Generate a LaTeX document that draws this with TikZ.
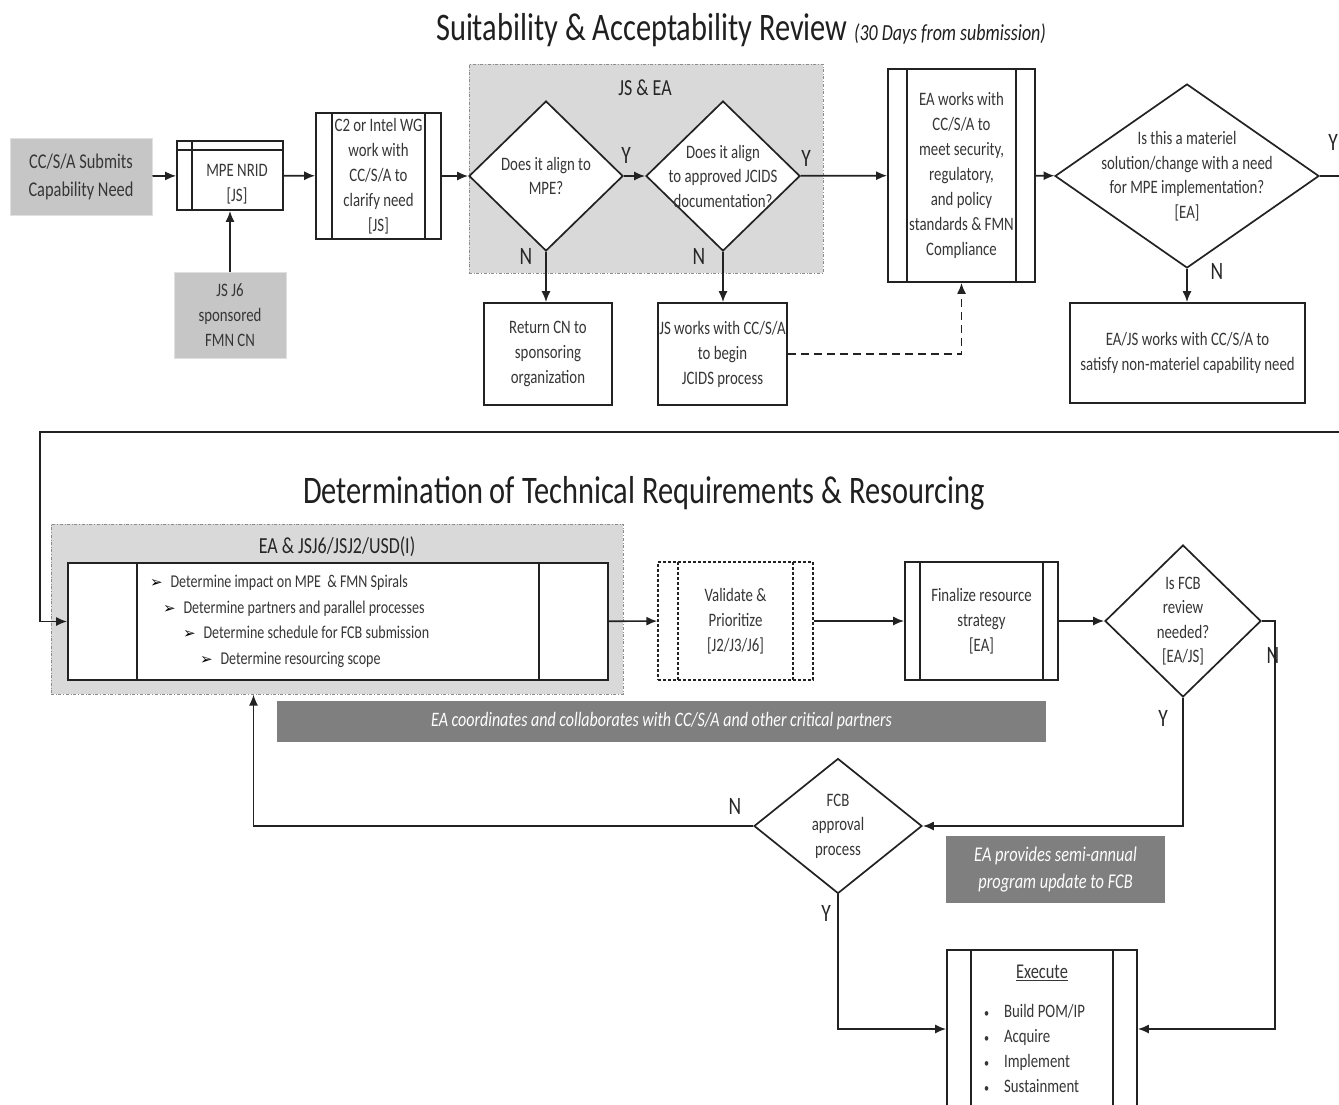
\documentclass[tikz,border=0pt]{standalone}
\usepackage{fontspec}
\setmainfont{Carlito}[FakeStretch=0.78]
\newfontfamily\symfont{DejaVu Sans}
\usetikzlibrary{shapes.geometric,arrows.meta}

\definecolor{inkgray}{HTML}{363636}
\definecolor{linegray}{HTML}{222222}
\definecolor{startfill}{HTML}{C6C6C6}
\definecolor{groupfill}{HTML}{D9D9D9}
\definecolor{barfill}{HTML}{7F7F7F}

\newcommand{\arrowbullet}{{\symfont\fontsize{15}{15}\selectfont\color{black}➢}\hspace{8pt}}

\tikzset{
  base/.style={text=inkgray, align=center, inner sep=0pt},
  startbox/.style={base, rectangle, fill=startfill, draw=black!12, line width=1pt, font=\fontsize{21}{28}\selectfont},
  procbox/.style={base, rectangle, draw=linegray, fill=white, line width=1.7pt, font=\fontsize{19}{25}\selectfont},
  inner rule/.style={},
  predef/.style={path picture={
    \draw[linegray, line width=1.4pt, inner rule]
      ([xshift=#1pt]path picture bounding box.north west) -- ([xshift=#1pt]path picture bounding box.south west)
      ([xshift=-#1pt]path picture bounding box.north east) -- ([xshift=-#1pt]path picture bounding box.south east);}},
  storebox/.style={path picture={
    \draw[linegray, line width=1.4pt]
      ([yshift=-9pt]path picture bounding box.north west) -- ([yshift=-9pt]path picture bounding box.north east)
      ([xshift=15pt]path picture bounding box.north west) -- ([xshift=15pt]path picture bounding box.south west);}},
  decision/.style={diamond, draw=linegray, fill=white, line width=1.7pt, inner sep=0pt},
  dtext/.style={base, font=\fontsize{19}{24.5}\selectfont},
  groupbox/.style={rectangle, fill=groupfill, draw=black!45, dash dot, line width=1pt},
  grouplabel/.style={text=black!85, inner sep=0pt, font=\fontsize{23}{24}\selectfont},
  notebar/.style={rectangle, fill=barfill, text=white, align=center, inner sep=0pt, font=\fontsize{20.5}{27}\selectfont\itshape},
  heading/.style={text=black!88, inner sep=0pt, font=\fontsize{39}{40}\selectfont},
  flow/.style={draw=linegray, line width=1.7pt, ->},
  yn/.style={text=black!85, inner sep=0pt, font=\fontsize{25}{25}\selectfont},
}

\begin{document}
\begin{tikzpicture}[x=1pt, y=-1pt, >={Latex[length=11pt,width=9pt]}]
\useasboundingbox (0,0) rectangle (1339,1104);

% headings
\node[heading] (headA) at (741,30) {Suitability \& Acceptability Review\,{\fontsize{23}{24}\selectfont\itshape(30 Days from submission)}};
\node[heading] (headB) at (644,493) {Determination of Technical Requirements \& Resourcing};

% shaded groups
\node[groupbox, minimum width=354pt, minimum height=209pt] (grpA) at (646,168.5) {};
\node[grouplabel] (grpAlbl) at (645,88) {JS \& EA};
\node[groupbox, minimum width=572pt, minimum height=170pt] (grpB) at (337,609) {};
\node[grouplabel] (grpBlbl) at (337,547) {EA \& JSJ6/JSJ2/USD(I)};

% suitability & acceptability review
\node[startbox, minimum width=142pt, minimum height=77pt] (submit) at (81,176.5) {CC/S/A Submits\\Capability Need};
\node[procbox, storebox, minimum width=106pt, minimum height=69pt] (nrid) at (230,175.5) {\rule{0pt}{30pt}\hspace*{14pt}MPE NRID\\\hspace*{14pt}{[JS]}};
\node[startbox, font=\fontsize{19}{25}\selectfont, minimum width=112pt, minimum height=86pt] (sponsor) at (230,315) {JS J6\\sponsored\\FMN CN};
\node[procbox, predef=16, minimum width=125pt, minimum height=126pt] (wg) at (378.5,176) {C2 or Intel WG\\work with\\CC/S/A to\\clarify need\\{[JS]}};
\node[decision, minimum width=154pt, minimum height=150pt] (alignmpe) at (546,176) {};
\node[dtext] (alignmpetxt) at (alignmpe) {Does it align to\\MPE?};
\node[decision, minimum width=154pt, minimum height=150pt] (alignjcids) at (723,176) {};
\node[dtext] (alignjcidstxt) at (alignjcids) {Does it align\\to approved JCIDS\\documentation?};
\node[procbox, minimum width=128pt, minimum height=102pt] (returncn) at (548,354) {Return CN to\\sponsoring\\organization};
\node[procbox, minimum width=129pt, minimum height=102pt] (jcids) at (722.5,354) {JS works with CC/S/A\\to begin\\JCIDS process};
\node[procbox, predef=19, minimum width=147pt, minimum height=213pt] (compliance) at (961.5,175.5) {EA works with\\CC/S/A to\\meet security,\\regulatory,\\and policy\\standards \& FMN\\Compliance};
\node[decision, minimum width=264pt, minimum height=184pt] (materiel) at (1187,176) {};
\node[dtext] (materieltxt) at (materiel) {Is this a materiel\\solution/change with a need\\for MPE implementation?\\{[EA]}};
\node[procbox, minimum width=235pt, minimum height=100pt] (nonmat) at (1187.5,353) {EA/JS works with CC/S/A to\\satisfy non-materiel capability need};

\node[yn] (yA) at (626,155) {Y};
\node[yn] (yB) at (806,158) {Y};
\node[yn] (nA) at (526,256) {N};
\node[yn] (nB) at (699,256) {N};
\node[yn] (yC) at (1333,142) {Y};
\node[yn] (nC) at (1217,271) {N};

\draw[flow] (submit) -- (nrid);
\draw[flow] (sponsor) -- (nrid);
\draw[flow] (nrid) -- (wg);
\draw[flow] (wg) -- (alignmpe);
\draw[flow] (alignmpe) -- (alignjcids);
\draw[flow] (alignjcids) -- (compliance);
\draw[flow] (alignmpe.south) -- (returncn.north -| alignmpe.south);
\draw[flow] (alignjcids.south) -- (jcids.north -| alignjcids.south);
\draw[flow, dash pattern=on 8pt off 5pt] (jcids.east) -| (compliance.south);
\draw[flow] (compliance) -- (materiel);
\draw[flow] (materiel.south) -- (nonmat.north -| materiel.south);

% determination of technical requirements & resourcing
\node[procbox, predef=69, minimum width=540pt, minimum height=117pt, font=\fontsize{18}{25.5}\selectfont] (impact) at (338,621.5) {%
  \makebox[390pt][l]{\hspace*{7pt}\arrowbullet Determine impact on MPE\ \ \& FMN Spirals}\\
  \makebox[390pt][l]{\hspace*{20pt}\arrowbullet Determine partners and parallel processes}\\
  \makebox[390pt][l]{\hspace*{40pt}\arrowbullet Determine schedule for FCB submission}\\
  \makebox[390pt][l]{\hspace*{57pt}\arrowbullet Determine resourcing scope}};
\node[procbox, predef=20, inner rule/.style={densely dashed}, densely dashed, line width=1.3pt, minimum width=155pt, minimum height=118pt] (validate) at (735.5,621) {Validate \&\\Prioritize\\{[J2/J3/J6]}};
\node[procbox, predef=15, minimum width=153pt, minimum height=118pt] (finalize) at (981.5,621) {Finalize resource\\strategy\\{[EA]}};
\node[decision, minimum width=156pt, minimum height=152pt] (fcbneed) at (1183,621) {};
\node[dtext] (fcbneedtxt) at (fcbneed) {Is FCB\\review\\needed?\\{[EA/JS]}};
\node[notebar, minimum width=769pt, minimum height=41pt] (coordbar) at (661.5,721.5) {EA coordinates and collaborates with CC/S/A and other critical partners};
\node[decision, minimum width=168pt, minimum height=135pt] (fcbapp) at (838,826) {};
\node[dtext] (fcbapptxt) at (fcbapp) {FCB\\approval\\process};
\node[notebar, minimum width=219pt, minimum height=67pt, font=\fontsize{21}{27}\selectfont\itshape] (updatebar) at (1055.5,869.5) {EA provides semi-annual\\program update to FCB};
\node[procbox, predef=24, minimum width=190pt, minimum height=158pt] (execute) at (1042,1029) {%
  {\fontsize{21}{25}\selectfont\underline{Execute}}\\[14pt]
  \makebox[116pt][l]{{\fontsize{13}{13}\selectfont\textbullet}\hspace{15pt}Build POM/IP}\\
  \makebox[116pt][l]{{\fontsize{13}{13}\selectfont\textbullet}\hspace{15pt}Acquire}\\
  \makebox[116pt][l]{{\fontsize{13}{13}\selectfont\textbullet}\hspace{15pt}Implement}\\
  \makebox[116pt][l]{{\fontsize{13}{13}\selectfont\textbullet}\hspace{15pt}Sustainment}};

\node[yn] (nD) at (1273,655) {N};
\node[yn] (yD) at (1163,718) {Y};
\node[yn] (nE) at (735,806) {N};
\node[yn] (yE) at (826,913) {Y};

\coordinate (edgeA) at (1352,176);
\coordinate (edgeB) at (1352,432);
\coordinate (turnL) at (40,432);
\coordinate (railR) at (1275,621);
\draw[flow] (materiel.east) -- (edgeA) -- (edgeB) -- (turnL) |- (impact.west);
\draw[flow] (impact) -- (validate);
\draw[flow] (validate) -- (finalize);
\draw[flow] (finalize) -- (fcbneed);
\draw[flow] (fcbneed.east) -- (railR) |- (execute.east);
\draw[flow] (fcbneed.south) |- (fcbapp.east);
\draw[flow] (fcbapp.west) -| ([xshift=203pt]grpB.south west);
\draw[flow] (fcbapp.south) |- (execute.west);
\end{tikzpicture}
\end{document}
